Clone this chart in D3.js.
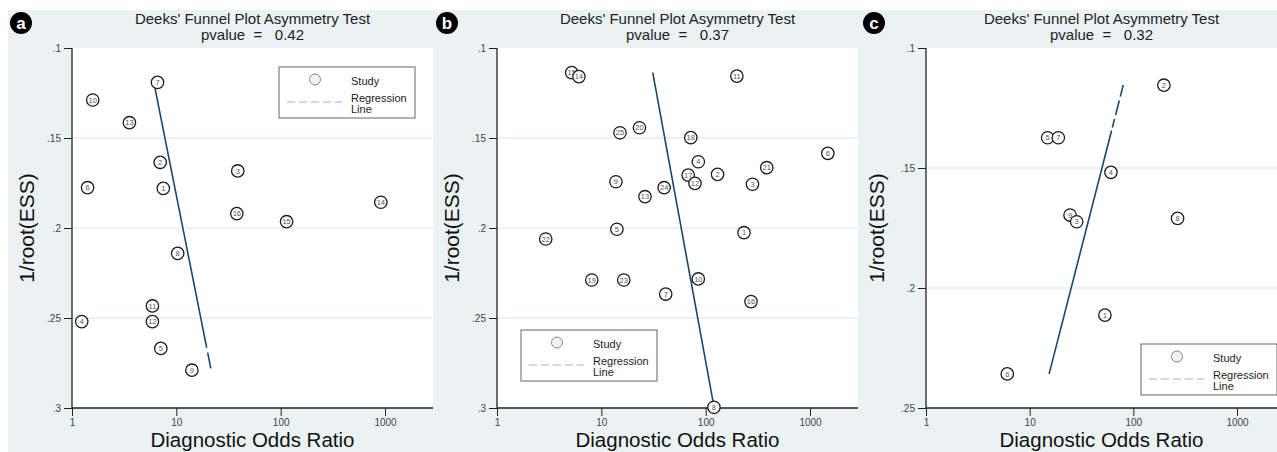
<!DOCTYPE html>
<html><head><meta charset="utf-8">
<script src="https://cdn.jsdelivr.net/npm/d3@7"></script>
<style>
html,body{margin:0;padding:0;background:#fff;}
svg{display:block;font-family:"Liberation Sans",Arial,sans-serif;}
</style></head>
<body>
<svg id="c" width="1277" height="452"></svg>
<script>
// ---- data ----
const panelLetters = ["a", "b", "c"];
const pvalues = ["0.42", "0.37", "0.32"];
const xTickValues = [1, 10, 100, 1000];
const yTicksAB = [0.1, 0.15, 0.2, 0.25, 0.3];
const yTicksC = [0.1, 0.15, 0.2, 0.25];
const yTickLabelsAB = [".1", ".15", ".2", ".25", ".3"];
const yTickLabelsC = [".1", ".15", ".2", ".25"];

const studiesA = [7, 10, 13, 2, 3, 6, 1, 14, 16, 15, 8, 11, 12, 4, 5, 9];
const dorA = [6.6, 1.58, 3.55, 7.0, 38.8, 1.41, 7.5, 912, 38, 114, 10.3, 5.9, 5.9, 1.24, 7.1, 14.1];
const essA = [0.1191, 0.1289, 0.1415, 0.1635, 0.1683, 0.1776, 0.178, 0.1857, 0.192, 0.1965, 0.2141, 0.2433, 0.252, 0.252, 0.2669, 0.279];
const regA = [[21.4, 0.278], [6.25, 0.1224]];

const studiesB = [15, 14, 11, 25, 20, 18, 6, 4, 21, 17, 2, 12, 3, 9, 24, 13, 5, 22, 1, 19, 23, 10, 7, 16, 8];
const dorB = [5.2, 6.1, 199, 15.1, 23.2, 72, 1482, 85, 385, 68, 130, 79, 281, 13.8, 40, 26.2, 14.1, 2.93, 233, 8.1, 16.4, 85, 41.4, 272, 120];
const essB = [0.1137, 0.1159, 0.1156, 0.1471, 0.1443, 0.1498, 0.1585, 0.1632, 0.1665, 0.1706, 0.1702, 0.1752, 0.1757, 0.1743, 0.1776, 0.1826, 0.2007, 0.2061, 0.2026, 0.2289, 0.2289, 0.2283, 0.2367, 0.2409, 0.2996];
const regB = [[31.1, 0.1137], [119, 0.298]];

const studiesC = [2, 5, 7, 4, 9, 3, 8, 1, 6];
const dorC = [197, 14.9, 18.9, 60.8, 24.5, 28.4, 267, 53.2, 6.08];
const essC = [0.1155, 0.1374, 0.1374, 0.1518, 0.1696, 0.1724, 0.171, 0.2113, 0.2358];
const regC = [[80, 0.1154], [15.4, 0.2358]];

// ---- layout ----
const svg = d3.select("#c");
const BG = "#eaf2f3", NAVY = "#1a476f";
const layouts = [
  {bgX: 8, axisX: 72, tick1000: 385, right: 433, yDom: [0.1, 0.3], yt: yTicksAB, ytl: yTickLabelsAB,
   ids: studiesA, xs: dorA, ys: essA, reg: regA, dash: "16,5,2000", letterX: 21, legend: [279, 67]},
  {bgX: 433, axisX: 497, tick1000: 810, right: 858, yDom: [0.1, 0.3], yt: yTicksAB, ytl: yTickLabelsAB,
   ids: studiesB, xs: dorB, ys: essB, reg: regB, dash: null, letterX: 447, legend: [521, 330]},
  {bgX: 858, axisX: 926, tick1000: 1237, right: 1277, yDom: [0.1, 0.25], yt: yTicksC, ytl: yTickLabelsC,
   ids: studiesC, xs: dorC, ys: essC, reg: regC, dash: "12,4,15,4,9,3,2000", letterX: 874, legend: [1141, 344]}
];
const plotTop = 48, plotBottom = 408;

layouts.forEach((L, i) => {
  const g = svg.append("g");
  const x = d3.scaleLog().domain([1, 1000]).range([L.axisX, L.tick1000]);
  const y = d3.scaleLinear().domain(L.yDom).range([plotTop, plotBottom]);

  // background
  g.append("rect").attr("x", L.bgX).attr("y", 10).attr("width", L.right - L.bgX).attr("height", 442).attr("fill", BG);
  g.append("rect").attr("x", L.axisX).attr("y", plotTop).attr("width", L.right - L.axisX).attr("height", plotBottom - plotTop).attr("fill", "#fff");

  // gridlines
  g.selectAll(".grid").data(L.yt.filter((d, k) => k > 0 && k < L.yt.length - 1)).enter().append("line")
    .attr("x1", L.axisX).attr("x2", L.right).attr("y1", d => y(d)).attr("y2", d => y(d))
    .attr("stroke", BG).attr("stroke-width", 2);

  // axes
  const ya = d3.axisLeft(y).tickValues(L.yt).tickFormat((d, k) => L.ytl[k]).tickSize(8).tickSizeOuter(0);
  const yg = g.append("g").attr("transform", `translate(${L.axisX},0)`).call(ya);
  yg.select(".domain").remove();
  yg.selectAll(".tick line").attr("stroke", "#222");
  yg.selectAll(".tick text").attr("font-size", 10).attr("fill", "#444").attr("x", -11)
    .attr("font-family", "Liberation Sans, Arial, sans-serif");
  g.append("line").attr("x1", L.axisX).attr("x2", L.axisX).attr("y1", plotTop).attr("y2", plotBottom).attr("stroke", "#222").attr("stroke-width", 1.3);

  const xa = d3.axisBottom(x).tickValues(xTickValues).tickFormat(d3.format("d")).tickSize(8).tickSizeOuter(0);
  const xg = g.append("g").attr("transform", `translate(0,${plotBottom})`).call(xa);
  xg.select(".domain").remove();
  xg.selectAll(".tick line").attr("stroke", "#222");
  xg.selectAll(".tick text").attr("font-size", 10).attr("fill", "#444").attr("y", 11)
    .attr("font-family", "Liberation Sans, Arial, sans-serif");
  g.append("line").attr("x1", L.axisX).attr("x2", L.right).attr("y1", plotBottom).attr("y2", plotBottom).attr("stroke", "#222").attr("stroke-width", 1.3);

  // titles
  const cx = (L.axisX + L.right) / 2;
  g.append("text").attr("x", cx).attr("y", 24).attr("text-anchor", "middle").attr("font-size", 15).attr("fill", "#222")
    .text("Deeks' Funnel Plot Asymmetry Test");
  g.append("text").attr("x", cx).attr("y", 39.5).attr("text-anchor", "middle").attr("font-size", 15).attr("fill", "#222")
    .attr("xml:space", "preserve").style("white-space", "pre").text("pvalue  =   " + pvalues[i]);
  g.append("text").attr("x", cx).attr("y", 447).attr("text-anchor", "middle").attr("font-size", 20.5).attr("fill", "#111")
    .text("Diagnostic Odds Ratio");
  g.append("text").attr("transform", `translate(${L.bgX + 26},${(plotTop + plotBottom) / 2}) rotate(-90)`).attr("text-anchor", "middle")
    .attr("font-size", 21).attr("fill", "#111").text("1/root(ESS)");

  // panel letter
  g.append("circle").attr("cx", L.letterX).attr("cy", 23).attr("r", 11).attr("fill", "#000");
  g.append("text").attr("x", L.letterX).attr("y", 29).attr("text-anchor", "middle").attr("font-size", 17).attr("font-weight", "bold")
    .attr("fill", "#fff").text(panelLetters[i]);

  // regression line
  const rl = g.append("path").attr("d", d3.line().x(d => x(d[0])).y(d => y(d[1]))(L.reg))
    .attr("stroke", NAVY).attr("stroke-width", 1.6).attr("fill", "none");
  if (L.dash) rl.attr("stroke-dasharray", L.dash);

  // points
  const pts = L.ids.map((id, k) => ({id, x: L.xs[k], y: L.ys[k]}));
  const pg = g.selectAll(".pt").data(pts).enter().append("g").attr("transform", d => `translate(${x(d.x)},${y(d.y)})`);
  pg.append("circle").attr("r", 6.2).attr("fill", "#fff").attr("stroke", "#1c1c1c").attr("stroke-width", 1.3);
  pg.append("text").attr("text-anchor", "middle").attr("y", 2.6).attr("font-size", 7.5).attr("fill", "#555").text(d => d.id);

  // legend
  const [lx, ly] = L.legend;
  const lg = g.append("g").attr("transform", `translate(${lx},${ly})`);
  lg.append("rect").attr("width", 136).attr("height", 51).attr("fill", "#fff").attr("stroke", "#666").attr("stroke-width", 1);
  lg.append("circle").attr("cx", 36).attr("cy", 12.5).attr("r", 5.5).attr("fill", "#f2f2f2").attr("stroke", "#888").attr("stroke-width", 1);
  lg.append("text").attr("x", 72).attr("y", 17.5).attr("font-size", 11).attr("fill", "#222").text("Study");
  lg.append("line").attr("x1", 8).attr("x2", 63).attr("y1", 35).attr("y2", 35).attr("stroke", "#9fb3c0").attr("stroke-width", 1.2)
    .attr("stroke-dasharray", "8,4");
  lg.append("text").attr("x", 72).attr("y", 35).attr("font-size", 11).attr("fill", "#222").text("Regression");
  lg.append("text").attr("x", 72).attr("y", 46).attr("font-size", 11).attr("fill", "#222").text("Line");
});
</script>
</body></html>
